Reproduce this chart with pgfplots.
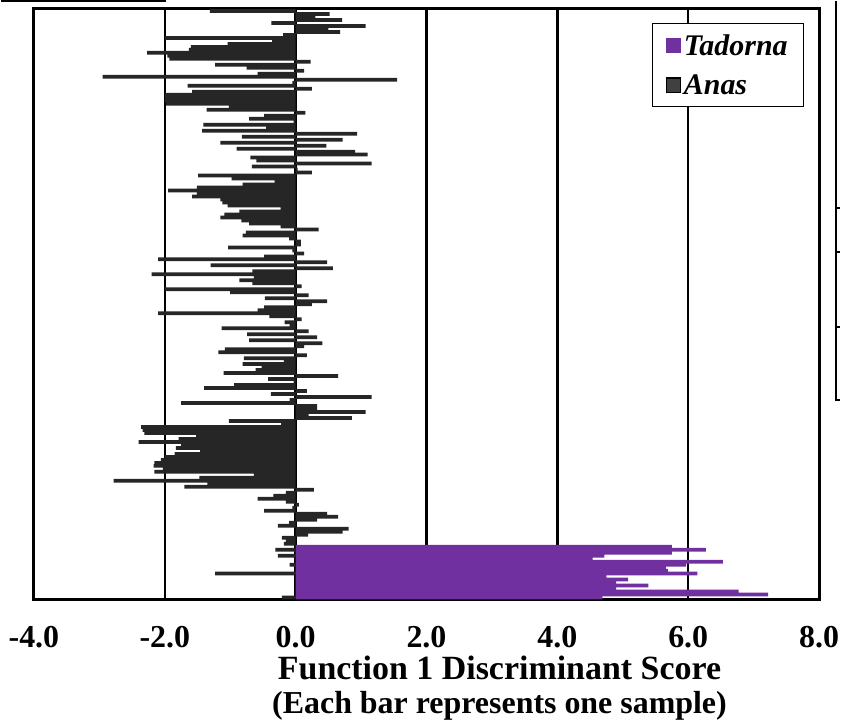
\documentclass[border=0pt]{standalone}
\usepackage{pgfplots}
\pgfplotsset{compat=1.18}
\usepackage{fontspec}
\setmainfont{Liberation Serif}
\newfontfamily\legfont{Liberation Serif}[UprightFont={* Bold Italic}]
\definecolor{anas}{HTML}{262626}
\definecolor{anasleg}{HTML}{404040}
\definecolor{tad}{HTML}{7030A0}
\begin{document}
\begin{tikzpicture}
\begin{axis}[
  scale only axis,
  width=590.25pt, height=444pt,
  xmin=-4, xmax=8,
  ymin=-0.67, ymax=196.67,
  y dir=reverse,
  xbar, bar width=1.25,
  clip=false,
  xtick={-4,-2,0,2,4,6,8},
  xticklabels={-4.0,-2.0,0.0,2.0,4.0,6.0,8.0},
  ytick=\empty,
  major tick length=0pt,
  xmajorgrids,
  grid style={black, line width=1.9pt},
  axis line style={black, line width=2.3pt},
  ticklabel style={font=\fontsize{24}{24}\selectfont\bfseries},
  xticklabel style={inner sep=0pt, yshift=-19.5pt},
  xlabel={{\fontsize{25.5}{25.5}\selectfont Function 1 Discriminant Score}\\(Each bar represents one sample)},
  xlabel style={font=\fontsize{24}{25.5}\selectfont\bfseries, align=center, inner sep=0pt, at={(axis description cs:0.593,0)}, anchor=north, yshift=-42.5pt},
  legend style={at={(0.981,0.976)}, anchor=north east, draw=black, line width=0.9pt, fill=white,
    font=\fontsize{22.5}{22.5}\selectfont\legfont, inner xsep=10pt, inner ysep=6pt, row sep=9pt,
    /tikz/every even column/.append style={column sep=1pt}},
  legend cell align=left,
]
\addplot[bar shift=0pt, fill=tad, draw=none,
  legend image code/.code={\fill[tad] (0pt,-5.5pt) rectangle (11pt,5.5pt);}]
coordinates {
(5.75,179) (6.27,180) (5.75,181) (4.72,182) (4.54,183) (6.53,184) (5.97,185)
(5.66,186) (5.69,187) (6.14,188) (4.75,189) (5.08,190) (4.90,191) (5.39,192)
(4.90,193) (6.77,194) (7.22,195) (4.69,196)
};
\addlegendentry{Tadorna}
\addplot[bar shift=0pt, fill=anas, draw=none,
  legend image code/.code={\draw[fill=anasleg, draw=black, line width=0.8pt] (0pt,-5.5pt) rectangle (11pt,5.5pt);}]
coordinates {
(-1.31,0) (0.52,1) (0.30,2) (0.71,3) (-0.37,4) (1.07,5) (0.50,6) (0.68,7) (-0.19,8) (-2.00,9)
(-0.36,10) (-1.04,11) (-1.60,12) (-1.63,13) (-2.27,14) (-1.96,15) (-1.93,16) (0.23,17) (-1.23,18) (-0.75,19)
(0.13,20) (-0.58,21) (-2.95,22) (1.55,23) (-0.05,24) (-1.65,25) (0.25,26) (-1.58,27) (-2.00,28) (-2.00,29)
(-2.00,30) (-1.98,31) (-1.02,32) (-1.36,33) (0.15,34) (-0.48,35) (-0.71,36) (-0.03,37) (-1.41,38) (-0.45,39)
(-1.43,40) (0.94,41) (-0.82,42) (0.72,43) (-1.15,44) (0.47,45) (-0.90,46) (0.91,47) (1.10,48) (-0.69,49)
(-0.60,50) (1.16,51) (-0.67,52) (0.03,53) (0.25,54) (-1.49,55) (-0.98,56) (-0.32,57) (-0.81,58) (-1.51,59)
(-1.95,60) (-1.51,61) (-1.58,62) (-1.15,63) (-1.12,64) (-1.04,65) (-0.23,66) (-0.86,67) (-1.09,68) (-1.15,69)
(-0.83,70) (-0.71,71) (-0.23,72) (0.35,73) (-0.76,74) (-0.81,75) (-0.10,76) (0.08,77) (0.08,78) (-1.03,79)
(-0.05,80) (0.13,81) (-0.48,82) (-2.10,83) (0.48,84) (-1.30,85) (0.57,86) (-0.66,87) (-2.20,88) (-0.64,89)
(-0.86,90) (-0.66,91) (0.09,92) (-2.00,93) (-1.00,94) (0.20,95) (-0.47,96) (0.48,97) (0.25,98) (-0.48,99)
(-0.58,100) (-2.10,101) (-0.40,102) (0.09,103) (-0.17,104) (-0.09,105) (-1.13,106) (0.20,107) (-0.74,108) (0.33,109)
(-0.71,110) (0.41,111) (0.13,112) (-1.08,113) (-1.18,114) (0.17,115) (-0.79,116) (-0.18,117) (-0.81,118) (-0.52,119)
(-0.61,120) (-1.10,121) (0.65,122) (-0.42,123) (-0.03,124) (-0.94,125) (-1.40,126) (0.17,127) (-0.38,128) (1.16,129)
(-0.09,130) (-1.75,131) (0.33,132) (0.33,133) (1.07,134) (0.20,135) (0.86,136) (-1.02,137) (-0.22,138) (-2.36,139)
(-2.34,140) (-2.31,141) (-1.52,142) (-1.79,143) (-2.40,144) (-1.75,145) (-1.83,146) (-1.46,147) (-1.85,148) (-2.00,149)
(-2.06,150) (-2.16,151) (-2.17,152) (-2.03,153) (-2.16,154) (-0.64,155) (-1.47,156) (-2.78,157) (-1.35,158) (-1.70,159)
(0.28,160) (-0.15,161) (-0.34,162) (-0.58,163) (-0.15,164) (0.05,165) (-0.05,166) (-0.48,167) (0.48,168) (0.65,169)
(0.33,170) (-0.10,171) (-0.27,172) (0.81,173) (0.72,174) (0.19,175) (-0.21,176) (-0.15,177) (-0.18,178)
(-0.31,180) (-0.27,182) (-0.09,185) (-1.23,188) (-0.21,196)
};
\addlegendentry{Anas}
\draw[black, line width=1.5pt] (axis cs:-4.503,-3.33) -- (axis cs:-1.987,-3.33);
\draw[black, line width=1.5pt] (axis cs:8.26,-3.33) -- (axis cs:8.26,130) -- (axis cs:8.32,130);
\draw[black, line width=1.5pt] (axis cs:8.26,65.7) -- (axis cs:8.32,65.7);
\draw[black, line width=1.5pt] (axis cs:8.26,80.7) -- (axis cs:8.32,80.7);
\draw[black, line width=1.5pt] (axis cs:8.26,105.7) -- (axis cs:8.32,105.7);
\end{axis}
\end{tikzpicture}
\end{document}
